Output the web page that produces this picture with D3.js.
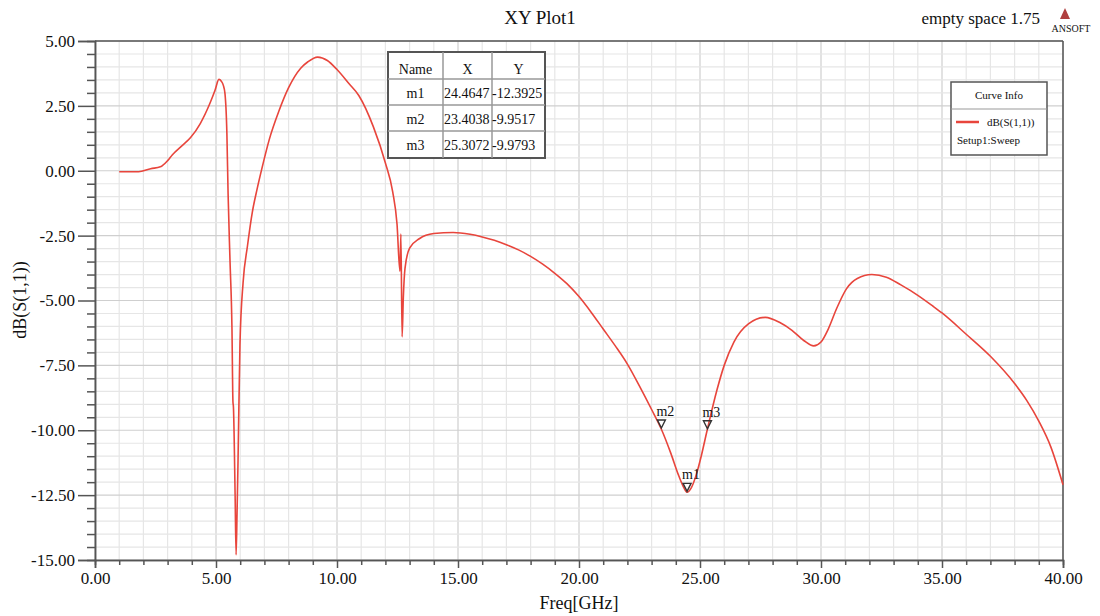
<!DOCTYPE html>
<html><head><meta charset="utf-8">
<script src="https://cdn.jsdelivr.net/npm/d3@7"></script>
<style>html,body{margin:0;padding:0;background:#fff;} svg{display:block;font-family:"Liberation Serif","DejaVu Serif",serif;} svg text{font-family:"Liberation Serif","DejaVu Serif",serif !important;}</style>
</head><body>
<svg id="chart" width="1100" height="616"></svg>
<script>
// ---- data ----
const freq = [1.0,1.8,2.3,2.7,3.0,3.2,3.6,3.95,4.35,4.75,4.96,5.12,5.22,5.3,5.37,5.45,5.5,5.58,5.66,5.7,5.72,5.79,5.83,5.87,5.91,5.99,6.12,6.3,6.5,6.7,6.9,7.2,7.6,8.0,8.5,8.8,9.2,9.6,10.0,10.5,10.9,11.5,12.0,12.3,12.48,12.6,12.64,12.69,12.74,12.81,13.0,13.4,14.0,14.8,15.5,16.0,16.5,17.0,17.5,18.0,18.5,19.0,19.5,20.0,20.5,21.0,21.5,22.0,22.5,23.0,23.4,23.8,24.1,24.3,24.46,24.65,24.85,25.05,25.3,25.7,26.0,26.4,27.0,27.7,28.3,28.8,29.3,29.7,30.0,30.3,30.65,31.05,31.5,32.1,32.7,33.3,34.0,34.6,35.0,36.0,37.0,38.0,38.5,39.0,39.5,40.0];
const s11 = [-0.04,-0.04,0.08,0.15,0.39,0.62,0.97,1.28,1.82,2.6,3.1,3.52,3.45,3.3,2.98,1.43,-0.9,-3.5,-6.1,-8.9,-9.1,-12.5,-14.8,-13.2,-11.2,-6.7,-4.3,-2.9,-1.6,-0.7,0.1,1.2,2.3,3.2,3.95,4.2,4.38,4.25,3.9,3.35,2.9,1.7,0.3,-0.8,-2.05,-3.87,-2.44,-6.4,-4.9,-3.76,-2.98,-2.62,-2.42,-2.38,-2.45,-2.55,-2.68,-2.85,-3.05,-3.3,-3.6,-3.95,-4.35,-4.85,-5.45,-6.1,-6.75,-7.45,-8.3,-9.2,-9.95,-10.9,-11.7,-12.15,-12.39,-12.2,-11.7,-11.0,-9.98,-8.45,-7.5,-6.6,-5.9,-5.65,-5.85,-6.15,-6.55,-6.75,-6.6,-6.1,-5.3,-4.55,-4.15,-4.0,-4.1,-4.4,-4.8,-5.2,-5.48,-6.3,-7.15,-8.2,-8.85,-9.65,-10.65,-12.1];
const markerNames = ["m1","m2","m3"];
const markerX = [24.4647,23.4038,25.3072];
const markerY = [-12.3925,-9.9517,-9.9793];
const xTicks = [0,5,10,15,20,25,30,35,40];
const yTicks = [5,2.5,0,-2.5,-5,-7.5,-10,-12.5,-15];

// ---- layout ----
const svg = d3.select("#chart");
const L=95, R=1063, T=41, B=560;
const x = d3.scaleLinear().domain([0,40]).range([L,R]);
const y = d3.scaleLinear().domain([-15,5]).range([B,T]);
const SERIF = '"Liberation Serif","DejaVu Serif",serif';

// grid
const g = svg.append("g");
d3.range(0,40.001,1).forEach(v=>{
  g.append("line").attr("x1",x(v)).attr("x2",x(v)).attr("y1",T).attr("y2",B)
   .attr("stroke", v%5===0 ? "#cfcfcf" : "#e6e6e6").attr("stroke-width",1.2);
});
d3.range(-15,5.001,0.5).forEach(v=>{
  const major = Math.abs(v/2.5 - Math.round(v/2.5))<1e-6;
  g.append("line").attr("x1",L).attr("x2",R).attr("y1",y(v)).attr("y2",y(v))
   .attr("stroke", major ? "#cfcfcf" : "#e6e6e6").attr("stroke-width",1.2);
});

// frame top/right
svg.append("line").attr("x1",L).attr("x2",R).attr("y1",T).attr("y2",T).attr("stroke","#555").attr("stroke-width",1.5);
svg.append("line").attr("x1",R).attr("x2",R).attr("y1",T).attr("y2",B).attr("stroke","#555").attr("stroke-width",1.5);

// axes
const fmt = v => d3.format(".2f")(v).replace("\u2212","-");
const xAxis = svg.append("g").attr("transform",`translate(0,${B})`)
  .call(d3.axisBottom(x).tickValues(xTicks).tickFormat(fmt).tickSizeOuter(0).tickSize(8).tickPadding(4));
const xMinor = svg.append("g").attr("transform",`translate(0,${B})`)
  .call(d3.axisBottom(x).tickValues(d3.range(0,40.001,1).filter(v=>v%5!==0)).tickFormat("").tickSizeOuter(0).tickSize(5));
const yAxis = svg.append("g").attr("transform",`translate(${L},0)`)
  .call(d3.axisLeft(y).tickValues(yTicks).tickFormat(fmt).tickSizeOuter(0).tickSize(17).tickPadding(3));
const yMinor = svg.append("g").attr("transform",`translate(${L},0)`)
  .call(d3.axisLeft(y).tickValues(d3.range(-15,5.001,0.5).filter(v=>Math.abs(v/2.5-Math.round(v/2.5))>1e-6)).tickFormat("").tickSizeOuter(0).tickSize(8));
[xAxis,xMinor,yAxis,yMinor].forEach(a=>{
  a.attr("font-family",SERIF).attr("font-size",17);
  a.select(".domain").attr("stroke","#555").attr("stroke-width",1.5);
  a.selectAll(".tick line").attr("stroke","#555").attr("stroke-width",1.5);
  a.selectAll("text").style("font-family",SERIF).style("font-size","17px").attr("fill","#111");
});

// curve
const pts = freq.map((f,i)=>[f,s11[i]]);
svg.append("path").datum(pts)
  .attr("d", d3.line().x(d=>x(d[0])).y(d=>y(d[1])).curve(d3.curveMonotoneX))
  .attr("fill","none").attr("stroke","#e8453c").attr("stroke-width",1.6);

// markers
markerNames.forEach((n,i)=>{
  const px=x(markerX[i]), py=y(markerY[i]);
  svg.append("path").attr("d",`M${px-4},${py-9} L${px+4},${py-9} L${px},${py-1} Z`)
    .attr("fill","none").attr("stroke","#333").attr("stroke-width",1.4);
  svg.append("text").attr("x",px+4).attr("y",py-13).attr("text-anchor","middle")
    .attr("font-size",14).attr("fill","#111").text(n);
});

// marker table
const tb = svg.append("g").attr("transform","translate(388,52)");
const colX=[0,55,104,157], rowY=[0,27,53,79,106];
tb.append("rect").attr("x",0).attr("y",0).attr("width",157).attr("height",106).attr("fill","#fff").attr("stroke","#555").attr("stroke-width",2);
colX.slice(1,3).forEach(c=>tb.append("line").attr("x1",c).attr("x2",c).attr("y1",0).attr("y2",106).attr("stroke","#999").attr("stroke-width",1.5));
rowY.slice(1,4).forEach(r=>tb.append("line").attr("x1",0).attr("x2",157).attr("y1",r).attr("y2",r).attr("stroke","#999").attr("stroke-width",1.5));
const header=["Name","X","Y"];
header.forEach((h,j)=>tb.append("text").attr("x",(colX[j]+colX[j+1])/2).attr("y",22).attr("text-anchor","middle").attr("font-size",14).attr("fill","#111").text(h));
markerNames.forEach((n,i)=>{
  const yy = rowY[i+1]+19;
  tb.append("text").attr("x",(colX[0]+colX[1])/2).attr("y",yy).attr("text-anchor","middle").attr("font-size",14).attr("fill","#111").text(n);
  tb.append("text").attr("x",colX[1]+1).attr("y",yy).attr("font-size",14).attr("fill","#111").text(markerX[i].toFixed(4));
  tb.append("text").attr("x",colX[2]).attr("y",yy).attr("font-size",14).attr("fill","#111").text(markerY[i].toFixed(4));
});

// legend
const lg = svg.append("g").attr("transform","translate(951,82)");
lg.append("rect").attr("width",96).attr("height",73).attr("fill","#fff").attr("stroke","#555").attr("stroke-width",1.5);
lg.append("line").attr("x1",0).attr("x2",96).attr("y1",27).attr("y2",27).attr("stroke","#999").attr("stroke-width",1);
lg.append("text").attr("x",48).attr("y",17).attr("text-anchor","middle").attr("font-size",11).attr("fill","#111").text("Curve Info");
lg.append("line").attr("x1",5).attr("x2",28).attr("y1",40).attr("y2",40).attr("stroke","#e8453c").attr("stroke-width",2.5);
lg.append("text").attr("x",36).attr("y",44).attr("font-size",11).attr("fill","#111").text("dB(S(1,1))");
lg.append("text").attr("x",6).attr("y",62).attr("font-size",11).attr("fill","#111").text("Setup1:Sweep");

// titles
svg.append("text").attr("x",540).attr("y",24).attr("text-anchor","middle").attr("font-size",19).attr("fill","#111").text("XY Plot1");
svg.append("text").attr("x",1040).attr("y",24).attr("text-anchor","end").attr("font-size",17).attr("fill","#111").text("empty space 1.75");
svg.append("path").attr("d","M1065,8 L1070,19 L1060,19 Z").attr("fill","#b04040");
svg.append("text").attr("x",1071).attr("y",32).attr("text-anchor","middle").attr("font-size",10).attr("fill","#111").text("ANSOFT");
svg.append("text").attr("x",579).attr("y",609).attr("text-anchor","middle").attr("font-size",18).attr("fill","#111").text("Freq[GHz]");
svg.append("text").attr("transform","translate(26,300) rotate(-90)").attr("text-anchor","middle").attr("font-size",18).attr("fill","#111").text("dB(S(1,1))");
</script>
</body></html>
